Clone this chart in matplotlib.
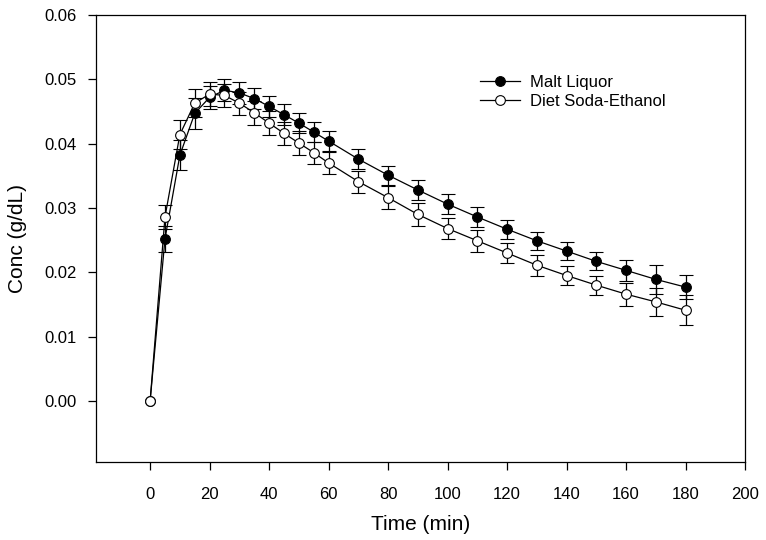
import matplotlib
matplotlib.use("Agg")
import matplotlib.pyplot as plt

plt.rcParams['font.family'] = ['Liberation Sans', 'DejaVu Sans']

nan = float('nan')

# sampling times (min)
time = [0, 5, 10, 15, 20, 25, 30, 35, 40, 45, 50, 55, 60,
        70, 80, 90, 100, 110, 120, 130, 140, 150, 160, 170, 180]

# Malt Liquor mean and error (no bar at baseline)
malt = [0.0, 0.0252, 0.0382, 0.0447, 0.0472, 0.0483, 0.0479, 0.0470, 0.0458, 0.0445, 0.0432, 0.0418, 0.0404,
        0.0376, 0.0351, 0.0328, 0.0306, 0.0286, 0.0267, 0.0249, 0.0233, 0.0217, 0.0203, 0.0189, 0.0177]
malt_err = [nan, 0.0020, 0.0023, 0.0024, 0.0018, 0.0017, 0.0017, 0.0016, 0.0016, 0.0016, 0.0016, 0.0015, 0.0015,
            0.0015, 0.0015, 0.0015, 0.0016, 0.0016, 0.0015, 0.0014, 0.0014, 0.0014, 0.0016, 0.0023, 0.0019]

# Diet Soda-Ethanol mean and error
diet = [0.0, 0.0286, 0.0414, 0.0463, 0.0477, 0.0475, 0.0463, 0.0448, 0.0432, 0.0416, 0.0401, 0.0386, 0.0370,
        0.0341, 0.0316, 0.0290, 0.0268, 0.0249, 0.0230, 0.0211, 0.0195, 0.0180, 0.0166, 0.0154, 0.0141]
diet_err = [nan, 0.0019, 0.0023, 0.0022, 0.0019, 0.0018, 0.0018, 0.0019, 0.0018, 0.0018, 0.0018, 0.0017, 0.0017,
            0.0017, 0.0018, 0.0018, 0.0017, 0.0017, 0.0016, 0.0016, 0.0015, 0.0015, 0.0018, 0.0022, 0.0023]

fig = plt.figure(figsize=(7.66, 5.40), dpi=100)
ax = fig.add_axes([0.1253, 0.1444, 0.8473, 0.8278])

ax.errorbar(time, malt, yerr=malt_err, color='black', lw=0.9, marker='o', ms=7,
            mfc='black', mec='black', mew=0.8, capsize=5.3, elinewidth=0.9, capthick=0.9,
            label='Malt Liquor', zorder=2)
ax.errorbar(time, diet, yerr=diet_err, color='black', lw=0.9, marker='o', ms=7,
            mfc='white', mec='black', mew=0.8, capsize=5.3, elinewidth=0.9, capthick=0.9,
            label='Diet Soda-Ethanol', zorder=3)

ax.set_xlim(-18.2, 200)
ax.set_ylim(-0.0095, 0.06)
ax.set_xticks(range(0, 201, 20))
ax.set_yticks([0.0, 0.01, 0.02, 0.03, 0.04, 0.05, 0.06])
ax.set_yticklabels(['0.00', '0.01', '0.02', '0.03', '0.04', '0.05', '0.06'])
ax.tick_params(direction='out', length=6, width=0.9, labelsize=12, pad=12)
ax.tick_params(axis='y', pad=8)
for s in ax.spines.values():
    s.set_linewidth(0.9)

ax.set_xlabel('Time (min)', fontsize=15, labelpad=9)
ax.set_ylabel('Conc (g/dL)', fontsize=15, labelpad=12)

handles, labels = ax.get_legend_handles_labels()
handles = [h[0] for h in handles]
ax.legend(handles, labels, loc='upper left', bbox_to_anchor=(0.569, 0.90), frameon=False,
          fontsize=12, handlelength=2.4, handletextpad=0.6, labelspacing=0.25)

fig.savefig('out.png', dpi=100)
